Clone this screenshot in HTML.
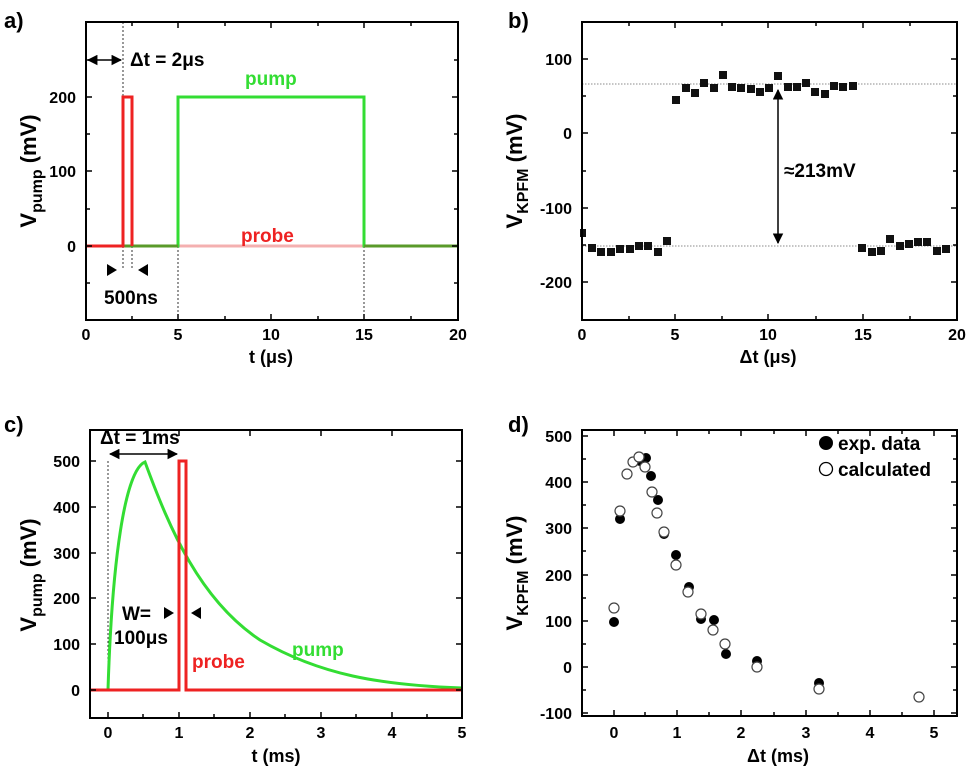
<!DOCTYPE html><html><head><meta charset="utf-8"><style>body{margin:0;background:#fff}svg{display:block;font-family:"Liberation Sans",Arial,sans-serif;font-weight:bold}</style></head><body>
<svg width="968" height="777" viewBox="0 0 968 777">
<defs><marker id="ar" viewBox="0 0 10 10" refX="9" refY="5" markerWidth="7" markerHeight="7" orient="auto-start-reverse"><path d="M0,0L10,5L0,10z" fill="#000"/></marker></defs>
<g font-size="22"><text x="4" y="28">a)</text><text x="508" y="28">b)</text><text x="4" y="432">c)</text><text x="508" y="432">d)</text></g>
<!-- panel a -->
<g>
<line x1="178" y1="246" x2="178" y2="320" stroke="#000" stroke-dasharray="2,2" stroke-width="0.8"/>
<line x1="364" y1="246" x2="364" y2="320" stroke="#000" stroke-dasharray="2,2" stroke-width="0.8"/>
<line x1="123" y1="22" x2="123" y2="97" stroke="#000" stroke-dasharray="2,2" stroke-width="0.8"/>
<line x1="123" y1="246" x2="123" y2="270" stroke="#000" stroke-dasharray="2,2" stroke-width="0.8"/>
<line x1="132" y1="246" x2="132" y2="270" stroke="#000" stroke-dasharray="2,2" stroke-width="0.8"/>
<line x1="178" y1="246" x2="364" y2="246" stroke="#f4b0b0" stroke-width="3"/>
<polyline points="86,246 178,246 178,97 364,97 364,246 458,246" fill="none" stroke="#33dd33" stroke-width="3"/>
<line x1="86" y1="246" x2="178" y2="246" stroke="#5a9a2a" stroke-width="3"/>
<line x1="364" y1="246" x2="458" y2="246" stroke="#5a9a2a" stroke-width="3"/>
<polyline points="86,246 123,246 123,97 132,97 132,246" fill="none" stroke="#ee2222" stroke-width="3"/>
<rect x="86" y="22" width="372" height="298" fill="none" stroke="#000" stroke-width="2"/>
<line x1="88" y1="60" x2="121" y2="60" stroke="#000" stroke-width="1.5" marker-start="url(#ar)" marker-end="url(#ar)"/>
<path d="M107,264l10,6l-10,6z M148,264l-10,6l10,6z" fill="#000"/>
<text x="130" y="66" font-size="19">Δt = 2μs</text>
<text x="104" y="304" font-size="19">500ns</text>
<text x="245" y="85" font-size="19" fill="#33dd33">pump</text>
<text x="241" y="242" font-size="19" fill="#ee2222">probe</text>
<g font-size="16" text-anchor="end"><text x="76" y="103">200</text><text x="76" y="177">100</text><text x="76" y="252">0</text></g>
<g font-size="16" text-anchor="middle"><text x="86" y="340">0</text><text x="178" y="340">5</text><text x="271" y="340">10</text><text x="364" y="340">15</text><text x="458" y="340">20</text></g>
<text x="271" y="363" font-size="18" text-anchor="middle">t (μs)</text>
<text transform="translate(36,171) rotate(-90)" font-size="22" text-anchor="middle">V<tspan font-size="16" dy="6">pump</tspan><tspan dy="-6">  (mV)</tspan></text>
<g stroke="#000" stroke-width="1.5"><path d="M86,320v-6M132,320v-4M178,320v-6M225,320v-4M271,320v-6M318,320v-4M364,320v-6M411,320v-4M86,22v6M132,22v4M178,22v6M225,22v4M271,22v6M318,22v4M364,22v6M411,22v4M86,97h6M86,171h6M86,246h6M86,134h4M86,209h4M86,283h4M86,60h4M458,97h-6M458,171h-6M458,246h-6M458,134h-4M458,209h-4M458,283h-4M458,60h-4"/></g>
</g>
<!-- panel b -->
<g>
<line x1="582" y1="84" x2="957" y2="84" stroke="#666" stroke-dasharray="1.5,1.5" stroke-width="0.8"/>
<line x1="582" y1="246" x2="957" y2="246" stroke="#666" stroke-dasharray="1.5,1.5" stroke-width="0.8"/>
<line x1="778" y1="90" x2="778" y2="243" stroke="#000" stroke-width="1.5" marker-start="url(#ar)" marker-end="url(#ar)"/>
<g fill="#111">
<rect x="672" y="96" width="8" height="8"/><rect x="682" y="84" width="8" height="8"/><rect x="691" y="89" width="8" height="8"/><rect x="700" y="79" width="8" height="8"/><rect x="710" y="84" width="8" height="8"/><rect x="719" y="71" width="8" height="8"/><rect x="728" y="83" width="8" height="8"/><rect x="737" y="84" width="8" height="8"/><rect x="747" y="85" width="8" height="8"/><rect x="756" y="88" width="8" height="8"/><rect x="765" y="84" width="8" height="8"/><rect x="774" y="72" width="8" height="8"/><rect x="784" y="83" width="8" height="8"/><rect x="793" y="83" width="8" height="8"/><rect x="802" y="79" width="8" height="8"/><rect x="811" y="88" width="8" height="8"/><rect x="821" y="90" width="8" height="8"/><rect x="830" y="82" width="8" height="8"/><rect x="839" y="83" width="8" height="8"/><rect x="849" y="82" width="8" height="8"/>
<rect x="580" y="229" width="6" height="8"/><rect x="588" y="244" width="8" height="8"/><rect x="597" y="248" width="8" height="8"/><rect x="607" y="248" width="8" height="8"/><rect x="616" y="245" width="8" height="8"/><rect x="626" y="245" width="8" height="8"/><rect x="635" y="242" width="8" height="8"/><rect x="644" y="242" width="8" height="8"/><rect x="654" y="248" width="8" height="8"/><rect x="663" y="237" width="8" height="8"/>
<rect x="858" y="244" width="8" height="8"/><rect x="868" y="248" width="8" height="8"/><rect x="877" y="247" width="8" height="8"/><rect x="886" y="235" width="8" height="8"/><rect x="896" y="242" width="8" height="8"/><rect x="905" y="240" width="8" height="8"/><rect x="914" y="238" width="8" height="8"/><rect x="923" y="238" width="8" height="8"/><rect x="933" y="247" width="8" height="8"/><rect x="942" y="245" width="8" height="8"/>
</g>
<rect x="582" y="22" width="375" height="298" fill="none" stroke="#000" stroke-width="2"/>
<text x="784" y="177" font-size="19">≈213mV</text>
<g font-size="16" text-anchor="end"><text x="572" y="65">100</text><text x="572" y="139">0</text><text x="572" y="214">-100</text><text x="572" y="288">-200</text></g>
<g font-size="16" text-anchor="middle"><text x="582" y="340">0</text><text x="675" y="340">5</text><text x="768" y="340">10</text><text x="863" y="340">15</text><text x="957" y="340">20</text></g>
<text x="768" y="363" font-size="18" text-anchor="middle">Δt (μs)</text>
<text transform="translate(522,171) rotate(-90)" font-size="22" text-anchor="middle">V<tspan font-size="16" dy="6">KPFM</tspan><tspan dy="-6">  (mV)</tspan></text>
<g stroke="#000" stroke-width="1.5"><path d="M582,320v-6M629,320v-4M675,320v-6M722,320v-4M768,320v-6M816,320v-4M863,320v-6M910,320v-4M582,22v6M629,22v4M675,22v6M722,22v4M768,22v6M816,22v4M863,22v6M910,22v4M582,59h6M582,133h6M582,208h6M582,282h6M582,96h4M582,171h4M582,245h4M957,59h-6M957,133h-6M957,208h-6M957,282h-6M957,96h-4M957,171h-4M957,245h-4"/></g>
</g>
<!-- panel c -->
<g>
<line x1="108" y1="461" x2="108" y2="690" stroke="#000" stroke-dasharray="2,2" stroke-width="0.8"/>
<line x1="179" y1="461" x2="179" y2="690" stroke="#000" stroke-dasharray="2,2" stroke-width="0.8"/>
<path d="M108,690 C112,560 125,470 145,462 C170,530 200,600 260,640 C320,675 380,685 462,688" fill="none" stroke="#33dd33" stroke-width="3"/>
<polyline points="90,690 179,690 179,461 186,461 186,690 462,690" fill="none" stroke="#ee2222" stroke-width="3"/>
<rect x="90" y="430" width="372" height="288" fill="none" stroke="#000" stroke-width="2"/>
<line x1="110" y1="454" x2="177" y2="454" stroke="#000" stroke-width="1.5" marker-start="url(#ar)" marker-end="url(#ar)"/>
<path d="M164,607l10,6l-10,6z M201,607l-10,6l10,6z" fill="#000"/>
<text x="100" y="444" font-size="19">Δt = 1ms</text>
<text x="122" y="620" font-size="19">W=</text>
<text x="114" y="644" font-size="19">100μs</text>
<text x="192" y="668" font-size="19" fill="#ee2222">probe</text>
<text x="292" y="656" font-size="19" fill="#33dd33">pump</text>
<g font-size="16" text-anchor="end"><text x="80" y="467">500</text><text x="80" y="513">400</text><text x="80" y="559">300</text><text x="80" y="604">200</text><text x="80" y="650">100</text><text x="80" y="696">0</text></g>
<g font-size="16" text-anchor="middle"><text x="108" y="738">0</text><text x="179" y="738">1</text><text x="250" y="738">2</text><text x="321" y="738">3</text><text x="392" y="738">4</text><text x="462" y="738">5</text></g>
<text x="276" y="762" font-size="18" text-anchor="middle">t (ms)</text>
<text transform="translate(36,575) rotate(-90)" font-size="22" text-anchor="middle">V<tspan font-size="16" dy="6">pump</tspan><tspan dy="-6">  (mV)</tspan></text>
<g stroke="#000" stroke-width="1.5"><path d="M108,718v-6M143,718v-4M179,718v-6M214,718v-4M250,718v-6M285,718v-4M321,718v-6M356,718v-4M392,718v-6M427,718v-4M108,430v6M179,430v6M250,430v6M321,430v6M392,430v6M90,461h6M90,507h6M90,553h6M90,598h6M90,644h6M90,690h6M462,461h-6M462,507h-6M462,553h-6M462,598h-6M462,644h-6M462,690h-6"/></g>
</g>
<!-- panel d -->
<g>
<g fill="#000">
<circle cx="614" cy="622" r="5"/><circle cx="620" cy="519" r="5"/><circle cx="640" cy="461" r="5"/><circle cx="646" cy="458" r="5"/><circle cx="651" cy="476" r="5"/><circle cx="658" cy="500" r="5"/><circle cx="664" cy="534" r="5"/><circle cx="676" cy="555" r="5"/><circle cx="689" cy="587" r="5"/><circle cx="701" cy="619" r="5"/><circle cx="714" cy="620" r="5"/><circle cx="726" cy="654" r="5"/><circle cx="757" cy="661" r="5"/><circle cx="819" cy="683" r="5"/>
</g>
<g fill="#fff" stroke="#444" stroke-width="1.2">
<circle cx="614" cy="608" r="5"/><circle cx="620" cy="511" r="5"/><circle cx="627" cy="474" r="5"/><circle cx="633" cy="462" r="5"/><circle cx="639" cy="457" r="5"/><circle cx="645" cy="467" r="5"/><circle cx="652" cy="492" r="5"/><circle cx="657" cy="513" r="5"/><circle cx="664" cy="532" r="5"/><circle cx="676" cy="565" r="5"/><circle cx="688" cy="592" r="5"/><circle cx="701" cy="614" r="5"/><circle cx="713" cy="630" r="5"/><circle cx="725" cy="644" r="5"/><circle cx="757" cy="667" r="5"/><circle cx="819" cy="689" r="5"/><circle cx="919" cy="697" r="5"/>
</g>
<circle cx="826" cy="443" r="7" fill="#000"/><circle cx="826" cy="469" r="6.5" fill="#fff" stroke="#000" stroke-width="1.3"/>
<text x="838" y="450" font-size="19">exp. data</text><text x="838" y="476" font-size="19">calculated</text>
<rect x="582" y="430" width="375" height="286" fill="none" stroke="#000" stroke-width="2"/>
<g font-size="16" text-anchor="end"><text x="572" y="442">500</text><text x="572" y="488">400</text><text x="572" y="534">300</text><text x="572" y="581">200</text><text x="572" y="627">100</text><text x="572" y="673">0</text><text x="572" y="719">-100</text></g>
<g font-size="16" text-anchor="middle"><text x="614" y="738">0</text><text x="677" y="738">1</text><text x="741" y="738">2</text><text x="806" y="738">3</text><text x="870" y="738">4</text><text x="934" y="738">5</text></g>
<text x="778" y="762" font-size="18" text-anchor="middle">Δt (ms)</text>
<text transform="translate(522,573) rotate(-90)" font-size="22" text-anchor="middle">V<tspan font-size="16" dy="6">KPFM</tspan><tspan dy="-6">  (mV)</tspan></text>
<g stroke="#000" stroke-width="1.5"><path d="M614,716v-6M645,716v-4M677,716v-6M709,716v-4M741,716v-6M774,716v-4M806,716v-6M838,716v-4M870,716v-6M902,716v-4M934,716v-6M614,430v6M645,430v4M677,430v6M709,430v4M741,430v6M774,430v4M806,430v6M838,430v4M870,430v6M902,430v4M934,430v6M582,436h6M582,482h6M582,528h6M582,575h6M582,621h6M582,667h6M582,713h6M582,459h4M582,505h4M582,551h4M582,598h4M582,644h4M582,690h4M957,436h-6M957,482h-6M957,528h-6M957,575h-6M957,621h-6M957,667h-6M957,713h-6M957,459h-4M957,505h-4M957,551h-4M957,598h-4M957,644h-4M957,690h-4"/></g>
</g>
</svg>
</body></html>
